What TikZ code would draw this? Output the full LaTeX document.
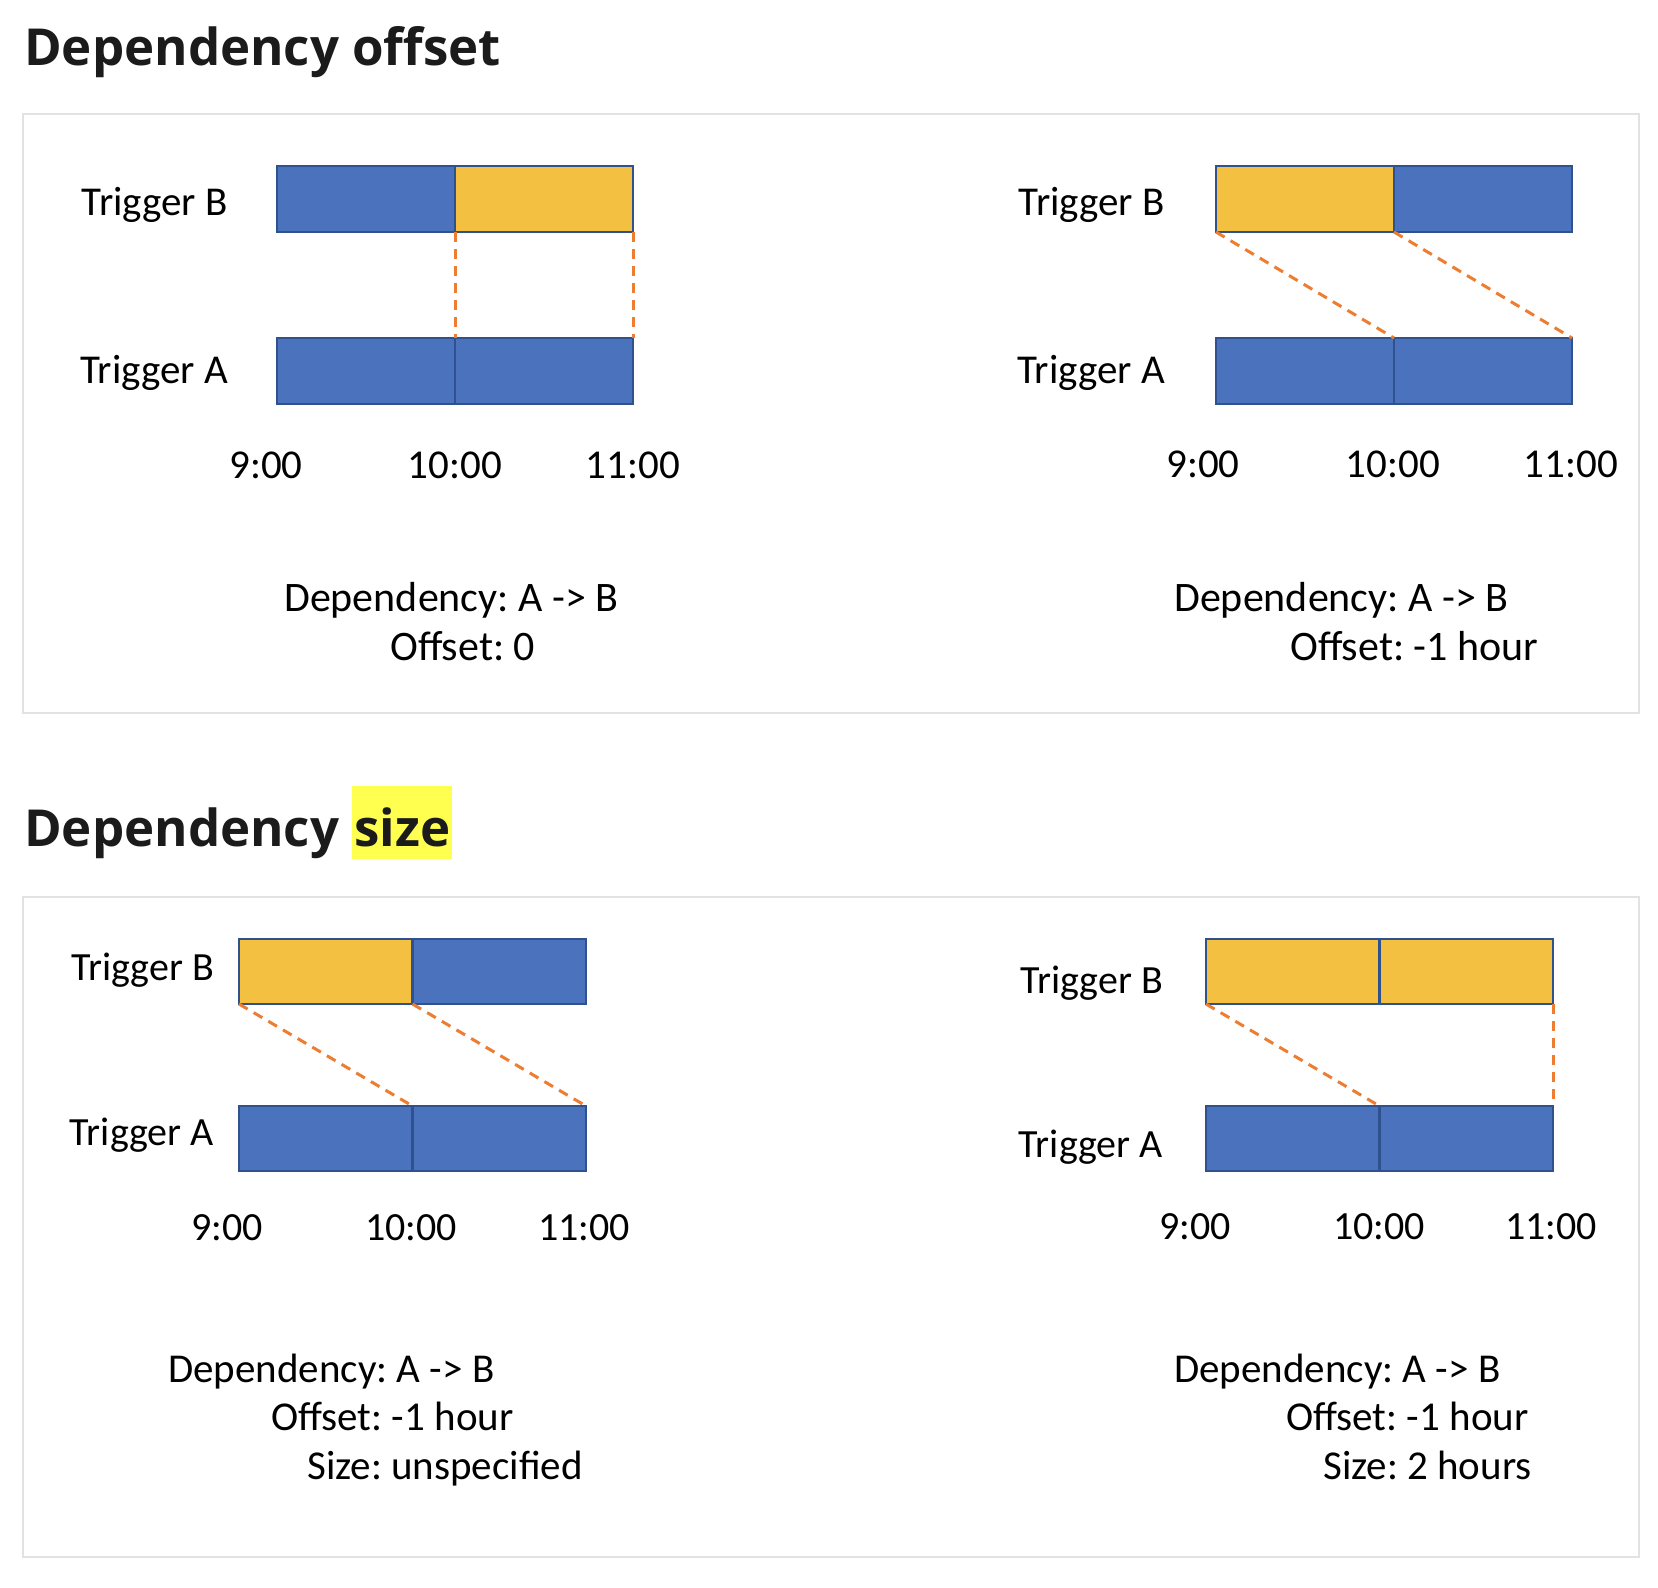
\documentclass[tikz,border=0pt]{standalone}
\usepackage{fontspec}
\setmainfont{Carlito}
\newfontfamily\titlefont{Open Sans}
\frenchspacing
\definecolor{barblue}{HTML}{4A72BD}
\definecolor{barborder}{HTML}{2F528F}
\definecolor{bargold}{HTML}{F4C042}
\definecolor{dashorange}{HTML}{ED7D31}
\definecolor{framegray}{HTML}{E2E2E2}
\definecolor{hlyellow}{HTML}{FFFF4F}
\definecolor{titleblack}{HTML}{1B1B1B}
\tikzset{
  cellblue/.style={rectangle, draw=barborder, fill=barblue, line width=2.5pt, inner sep=0pt, outer sep=0pt, anchor=north west},
  cellgold/.style={cellblue, fill=bargold},
  topcell/.style={minimum width=178pt, minimum height=66pt},
  botcell/.style={minimum width=173.5pt, minimum height=65pt},
  lbltop/.style={anchor=base east, inner sep=0pt, font=\fontsize{41}{49}\selectfont},
  lblbot/.style={anchor=base east, inner sep=0pt, font=\fontsize{40}{48}\selectfont},
  timetop/.style={anchor=base, inner sep=0pt, font=\fontsize{41}{49}\selectfont},
  timebot/.style={anchor=base, inner sep=0pt, font=\fontsize{40}{48}\selectfont},
  desctop/.style={anchor=base west, inner sep=0pt, font=\fontsize{42}{50}\selectfont\frenchspacing},
  descbot/.style={anchor=base west, inner sep=0pt, font=\fontsize{41}{49}\selectfont\frenchspacing},
  titlestyle/.style={anchor=base west, inner sep=0pt, text=titleblack, font=\titlefont\bfseries\fontsize{51}{60}\selectfont},
  dashline/.style={draw=dashorange, line width=3pt, dash pattern=on 10pt off 7pt},
  framebox/.style={draw=framegray, line width=2pt}
}
\begin{document}
\begin{tikzpicture}[x=1pt, y=-1pt]
\useasboundingbox[fill=white] (0,0) rectangle (1658,1588);

% titles
\node[titlestyle] (title1) at (24,65) {Dependency offset};
\node[titlestyle] (title2) at (24,846) {Dependency {\setlength{\fboxsep}{0pt}\colorbox{hlyellow}{\rule[-13pt]{0pt}{73pt}\kern2pt size\kern2pt}}};

% frames
\draw[framebox] (23,114) rectangle (1639,713);
\draw[framebox] (23,897) rectangle (1639,1557);

% ---------- top left ----------
\node[cellblue, topcell] (tlB1) at (277,166) {};
\node[cellgold, topcell] (tlB2) at (455,166) {};
\node[cellblue, topcell] (tlA1) at (277,338) {};
\node[cellblue, topcell] (tlA2) at (455,338) {};
\node[lbltop] (tlLB) at (228,215) {Trigger B};
\node[lbltop] (tlLA) at (228,383) {Trigger A};
\node[timetop] (tlT1) at (266,478) {9:00};
\node[timetop] (tlT2) at (455,478) {10:00};
\node[timetop] (tlT3) at (633,478) {11:00};
\draw[dashline] (tlB2.south west) -- (tlA2.north west);
\draw[dashline] (tlB2.south east) -- (tlA2.north east);
\node[desctop] (tlD1) at (284,611) {Dependency: A -> B};
\node[desctop] (tlD2) at (390,660) {Offset: 0};

% ---------- top right ----------
\node[cellgold, topcell] (trB1) at (1216,166) {};
\node[cellblue, topcell] (trB2) at (1394,166) {};
\node[cellblue, topcell] (trA1) at (1216,338) {};
\node[cellblue, topcell] (trA2) at (1394,338) {};
\node[lbltop] (trLB) at (1165,215) {Trigger B};
\node[lbltop] (trLA) at (1165,383) {Trigger A};
\node[timetop] (trT1) at (1203,477) {9:00};
\node[timetop] (trT2) at (1393,477) {10:00};
\node[timetop] (trT3) at (1571,477) {11:00};
\draw[dashline] (trB1.south west) -- (trA1.north east);
\draw[dashline] (trB2.south west) -- (trA2.north east);
\node[desctop] (trD1) at (1174,611) {Dependency: A -> B};
\node[desctop] (trD2) at (1290,660) {Offset: -1 hour};

% ---------- bottom left ----------
\node[cellgold, botcell] (blB1) at (239,939) {};
\node[cellblue, botcell] (blB2) at (412.5,939) {};
\node[cellblue, botcell] (blA1) at (239,1106) {};
\node[cellblue, botcell] (blA2) at (412.5,1106) {};
\node[lblbot] (blLB) at (214,980) {Trigger B};
\node[lblbot] (blLA) at (214,1145) {Trigger A};
\node[timebot] (blT1) at (227,1240) {9:00};
\node[timebot] (blT2) at (411,1240) {10:00};
\node[timebot] (blT3) at (584,1240) {11:00};
\draw[dashline] (blB1.south west) -- (blA1.north east);
\draw[dashline] (blB2.south west) -- (blA2.north east);
\node[descbot] (blD1) at (168,1382) {Dependency: A -> B};
\node[descbot] (blD2) at (271,1430) {Offset: -1 hour};
\node[descbot] (blD3) at (307,1479) {Size: unspecified};

% ---------- bottom right ----------
\node[cellgold, botcell] (brB1) at (1206,939) {};
\node[cellgold, botcell] (brB2) at (1379.5,939) {};
\node[cellblue, botcell] (brA1) at (1206,1106) {};
\node[cellblue, botcell] (brA2) at (1379.5,1106) {};
\node[lblbot] (brLB) at (1163,993) {Trigger B};
\node[lblbot] (brLA) at (1163,1157) {Trigger A};
\node[timebot] (brT1) at (1195,1239) {9:00};
\node[timebot] (brT2) at (1379,1239) {10:00};
\node[timebot] (brT3) at (1551,1239) {11:00};
\draw[dashline] (brB1.south west) -- (brA1.north east);
\draw[dashline] (brB2.south east) -- (brA2.north east);
\node[descbot] (brD1) at (1174,1382) {Dependency: A -> B};
\node[descbot] (brD2) at (1286,1430) {Offset: -1 hour};
\node[descbot] (brD3) at (1323,1479) {Size: 2 hours};
\end{tikzpicture}
\end{document}
